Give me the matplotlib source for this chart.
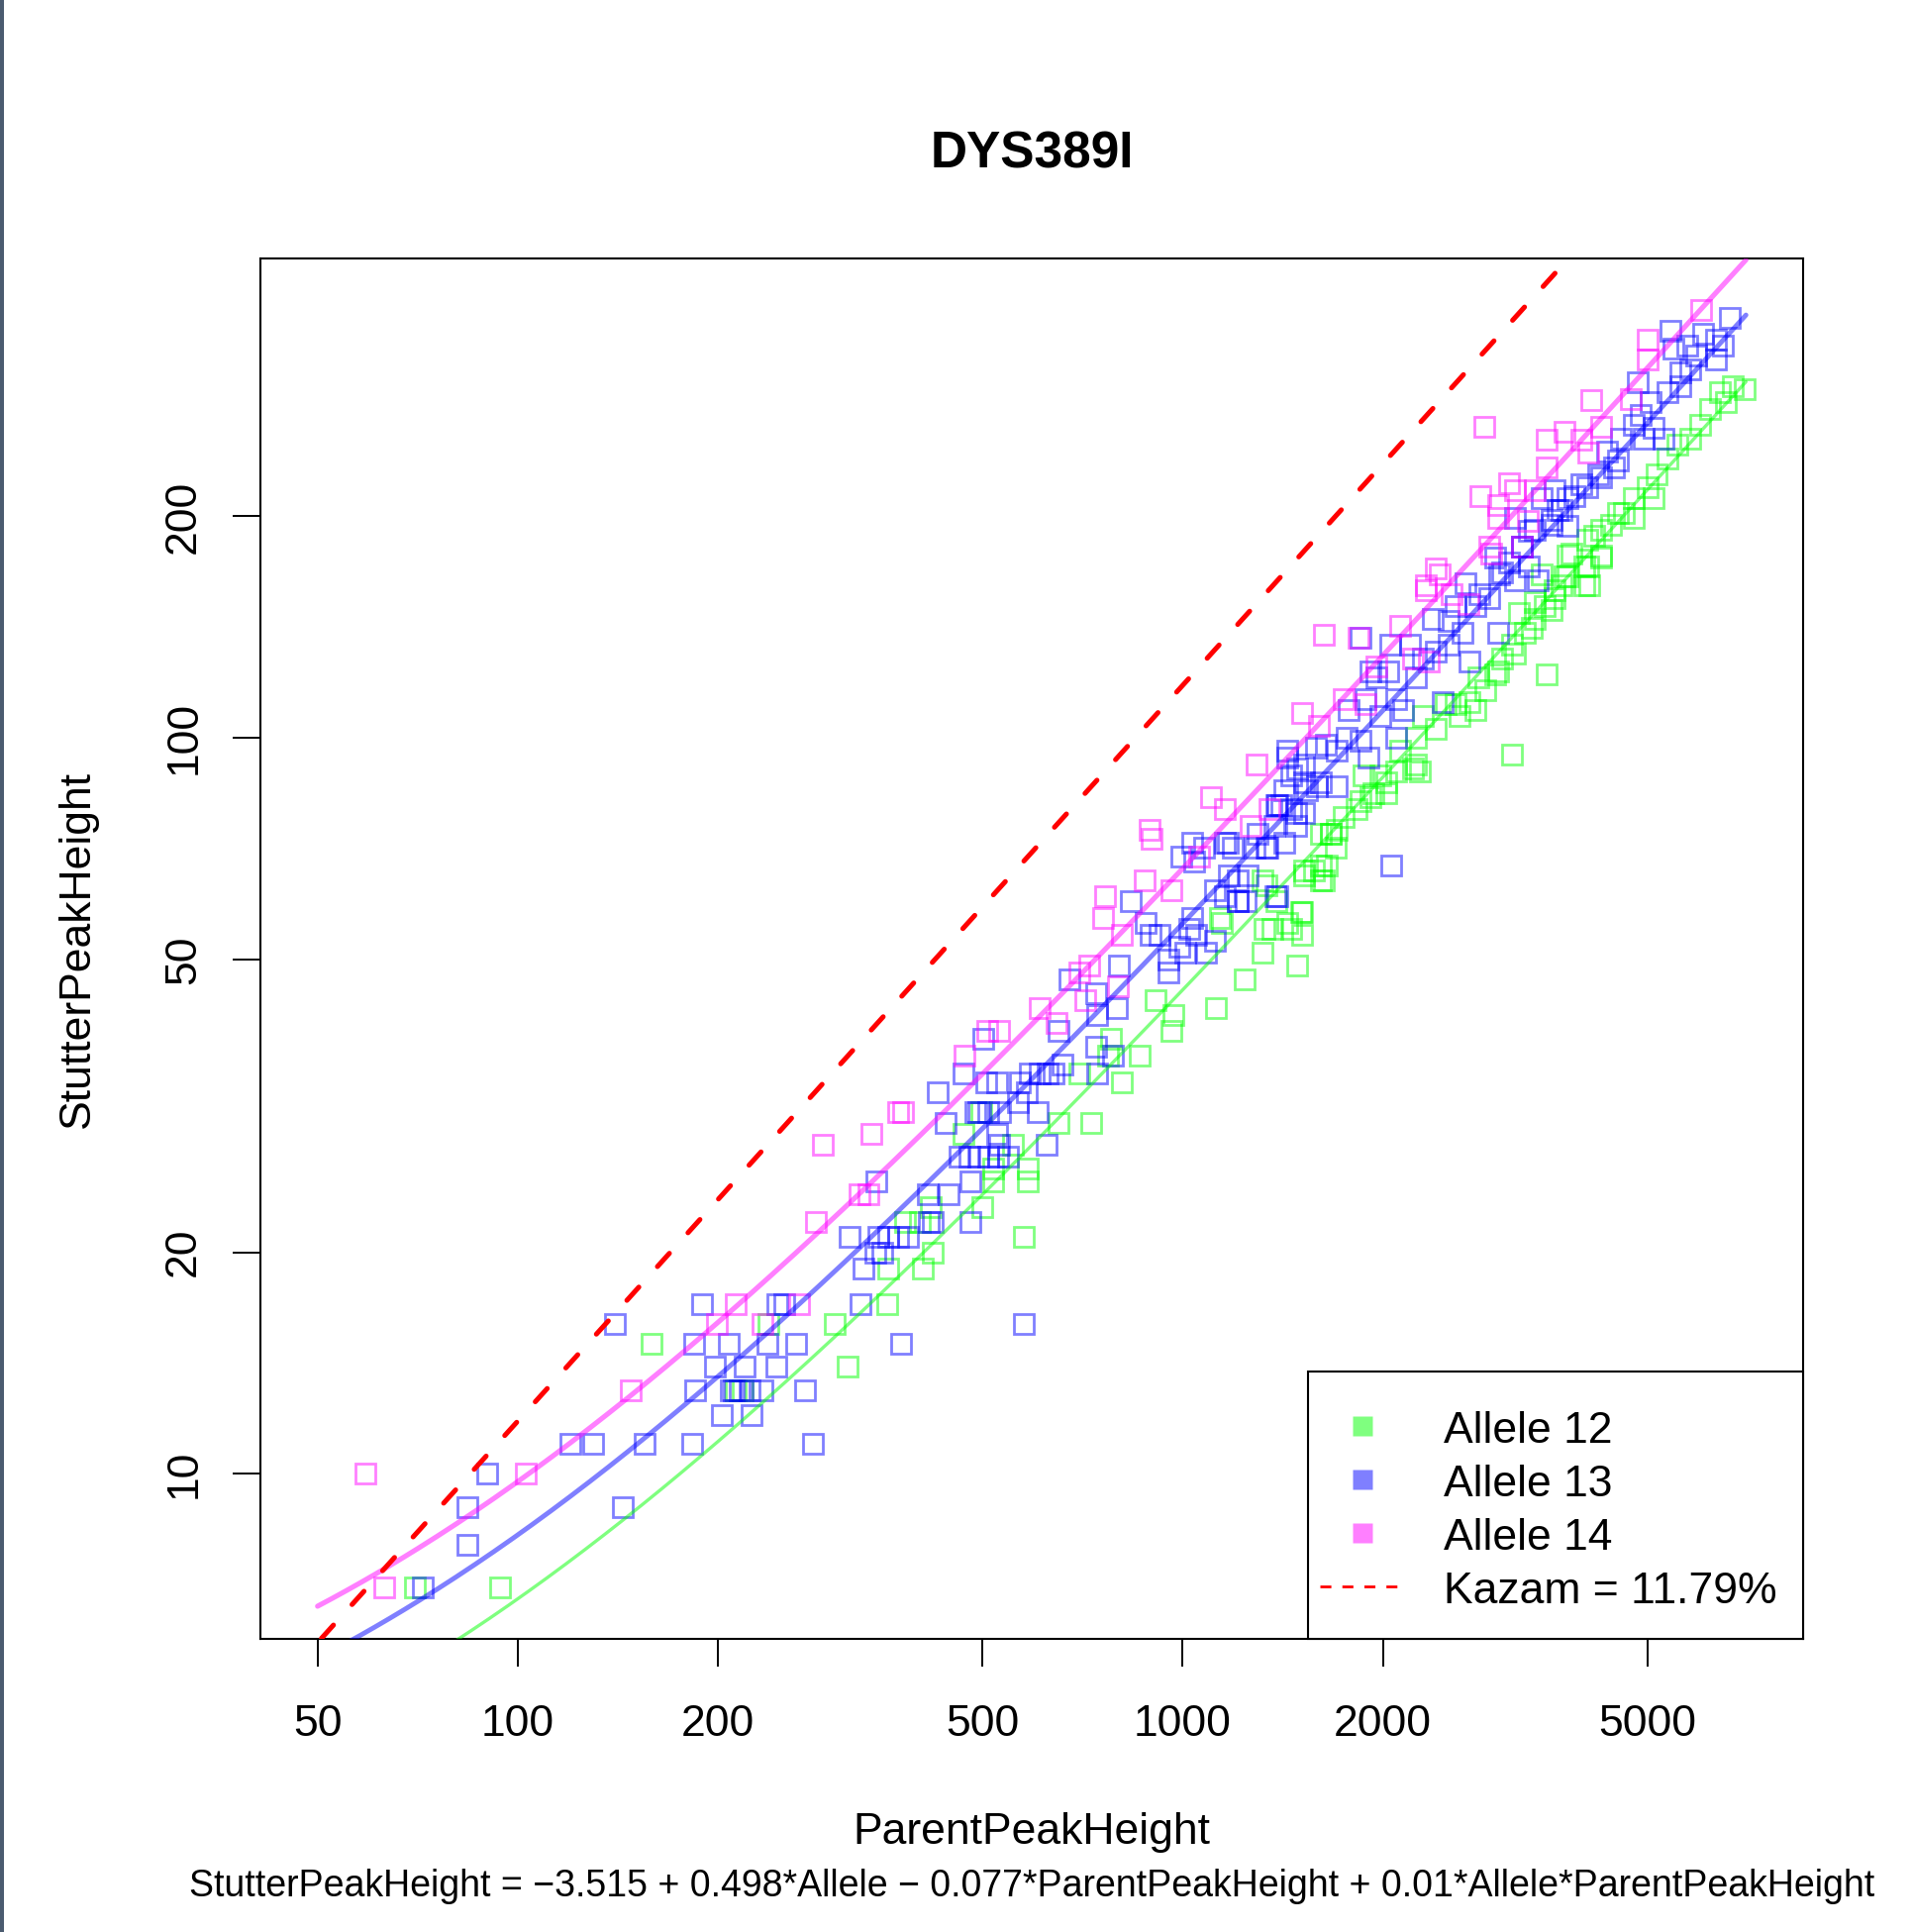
import numpy as np
import matplotlib.pyplot as plt
from matplotlib.patches import Rectangle
from matplotlib.ticker import NullLocator

plt.rcParams['font.family'] = ['Liberation Sans', 'DejaVu Sans']

# points: (ParentPeakHeight, StutterPeakHeight)
allele12_points = [
    (70, 7), (94, 7), (159, 15), (213, 13), (218, 13), (238, 16), (300, 16), (313, 14),
    (359, 17), (361, 19), (382, 22), (402, 22), (407, 19), (418, 23), (421, 20), (468, 29),
    (499, 23), (518, 26), (518, 25), (555, 28), (576, 21), (585, 26), (585, 25),
    (497, 31), (650, 30), (729, 30), (699, 35), (809, 34), (771, 37), (780, 39), (861, 37),
    (962, 40), (967, 42), (910, 44), (1122, 43), (1137, 57), (1238, 47), (1320, 51), (1486, 49),
    (1365, 55), (1455, 55), (1512, 54), (1512, 58), (1385, 60), (1336, 63), (1320, 64),
    (1611, 64), (1521, 66), (1645, 67), (1573, 66), (1670, 74), (1700, 71),
    (1144, 56), (1327, 55), (1437, 56), (1504, 58), (1522, 65), (1611, 67), (1629, 64),
    (1667, 74), (1745, 78), (1848, 82), (1934, 84), (2025, 87), (2218, 91), (2270, 90),
    (3124, 95), (3524, 122), (2487, 111), (2603, 107), (2755, 109), (2852, 116), (2985, 123),
    (3160, 130), (3346, 141), (3502, 151), (3709, 161), (4017, 171), (4253, 177),
    (1612, 74), (1706, 75), (1827, 80), (1912, 83), (2025, 84), (1869, 89), (1980, 89),
    (2096, 90), (2244, 92), (2120, 96), (2244, 100), (2404, 103), (2296, 107), (2574, 111),
    (2694, 112), (2787, 121), (2952, 122), (3020, 128), (3125, 134), (3271, 139), (3385, 145),
    (3626, 155), (3752, 166), (4018, 161), (3794, 177), (4064, 186), (4254, 192), (4505, 202),
    (3198, 148), (3386, 153), (3584, 149), (3464, 167), (3626, 159), (4089, 161), (3795, 166),
    (3839, 178), (4065, 171), (4255, 176), (4159, 188), (4403, 195), (4609, 202), (4770, 199),
    (4770, 212), (5108, 212), (4993, 219), (5167, 228), (5348, 240), (5534, 250), (5791, 255),
    (5995, 266), (6203, 280), (6568, 286), (6420, 295), (6720, 301), (6994, 298),
]

allele13_points = [
    (72, 7), (84, 8), (84, 9), (90, 10), (144, 9), (120, 11), (130, 11), (155, 11), (183, 11),
    (278, 11), (203, 12), (225, 12), (185, 13), (211, 13), (209, 13), (216, 13), (223, 13),
    (233, 13), (270, 13), (198, 14), (219, 14), (245, 14), (184, 15), (208, 15), (237, 15),
    (262, 15), (377, 15), (140, 16), (577, 16), (189, 17), (246, 17), (252, 17), (328, 17),
    (331, 19), (345, 20), (353, 20), (316, 21), (349, 21), (361, 21), (373, 21), (386, 21),
    (415, 22), (421, 22), (480, 22), (413, 24), (445, 24), (346, 25), (480, 25), (461, 27),
    (477, 27), (493, 27), (510, 27), (527, 27), (546, 27), (526, 29), (530, 28), (624, 28),
    (440, 30), (493, 31), (510, 31), (488, 31), (532, 31), (606, 31), (566, 32), (428, 33),
    (583, 33), (506, 34), (526, 34), (569, 34), (468, 35), (588, 35), (609, 35), (626, 35),
    (639, 35), (743, 35), (660, 36), (786, 37), (741, 38), (501, 39), (650, 40), (743, 42),
    (795, 43), (741, 45), (676, 47), (801, 49), (953, 48), (953, 50), (1010, 51), (1083, 51),
    (987, 52), (1117, 53), (895, 54), (922, 54), (1046, 54), (1021, 55), (880, 56), (1034, 57),
    (836, 60), (1210, 60), (1245, 60), (1211, 60), (1156, 61), (1377, 61), (1389, 61),
    (1117, 62), (1210, 64), (1171, 65), (1254, 65), (2059, 67), (1040, 68), (995, 69),
    (1078, 71), (1190, 71), (1336, 71), (1282, 71), (1342, 71), (1034, 72), (1156, 72),
    (1170, 72), (1419, 72), (1297, 74), (1373, 76), (1481, 76), (1405, 81), (1389, 81),
    (1385, 81), (1479, 79), (1455, 80), (1521, 79), (1419, 85), (1539, 85), (1612, 87),
    (1706, 86), (1594, 86), (1521, 87), (1454, 89), (1487, 91), (1522, 92), (1437, 96),
    (1584, 97), (1639, 98), (1706, 96), (1766, 100), (1848, 99), (1902, 94), (1437, 94),
    (2096, 100), (1980, 107), (1776, 109), (2144, 109), (1880, 113), (2096, 113), (2459, 112),
    (1957, 121), (1912, 123), (2037, 123), (2244, 121), (2694, 127), (2296, 128), (2404, 131),
    (2193, 134), (2048, 134), (2515, 134), (1848, 137), (2985, 139), (2633, 139), (2515, 144),
    (2376, 145), (2756, 151), (2575, 151), (2885, 155), (2788, 157), (2664, 162), (3161, 164),
    (3424, 164), (2987, 167), (3020, 168), (3309, 171), (3090, 173), (2953, 176), (3234, 182),
    (3235, 182), (3311, 191), (3385, 192), (3794, 194), (3584, 195), (3586, 198), (3163, 199),
    (3667, 204), (3709, 204), (3795, 212), (3882, 213), (3464, 212), (3626, 217), (4064, 219),
    (3973, 221), (4254, 226), (4207, 228), (4453, 233), (4505, 238), (4353, 245), (4557, 255),
    (4937, 255), (5287, 255), (5108, 264), (4770, 266), (4881, 275), (5050, 286), (5348, 295),
    (5598, 301), (4826, 304), (5598, 314), (5791, 317), (6346, 327), (5925, 331), (5470, 338),
    (5727, 341), (6493, 341), (6346, 348), (6063, 354), (5409, 357), (6643, 372),
]

allele14_points = [
    (59, 10), (63, 7), (103, 10), (148, 13), (199, 16), (213, 17), (233, 16), (265, 17),
    (281, 22), (288, 28), (327, 24), (337, 24), (340, 29), (373, 31), (380, 31), (470, 37),
    (508, 40), (530, 40), (610, 43), (645, 41), (699, 48), (714, 44), (723, 49), (758, 57),
    (764, 61), (798, 46), (811, 54), (877, 64), (891, 75), (899, 73), (962, 62), (1057, 69),
    (1104, 83), (1156, 80), (1265, 76), (1289, 92), (1350, 80), (1513, 108), (1605, 104),
    (1629, 138), (1747, 113), (1841, 137), (1880, 111), (1953, 125), (2119, 142), (2220, 128),
    (2320, 159), (2322, 161), (2345, 127), (2403, 170), (2432, 167), (2535, 157), (2685, 152),
    (2805, 213), (2836, 265), (2886, 182), (2910, 178), (2980, 207), (2985, 199), (3100, 222),
    (3163, 217), (3240, 182), (3300, 197), (3386, 217), (3524, 254), (3530, 233), (3752, 261),
    (3973, 254), (4070, 244), (4112, 288), (4255, 265), (4716, 289), (4993, 327), (4993, 348),
    (6029, 382),
]

# linear model printed under the plot, and the Kazam stutter ratio
coef_intercept = -3.515
coef_allele = 0.498
coef_parent = -0.077
coef_interaction = 0.01
kazam_ratio = 0.1179

alleles = [12, 13, 14]
allele_points = [allele12_points, allele13_points, allele14_points]
allele_colors = [(0, 1, 0, 0.5), (0, 0, 1, 0.5), (1, 0, 1, 0.5)]
fit_lw = [2.4, 3.5, 3.7]

parent_range = (50, 7030)
stutter_range = (7, 382)
x_ticks = [50, 100, 200, 500, 1000, 2000, 5000]
y_ticks = [10, 20, 50, 100, 200]

W, H = 1933, 1951
L, R, T, B = 263, 1821, 261, 1655
fig = plt.figure(figsize=(W / 100, H / 100), dpi=100)
ax = fig.add_axes([L / W, 1 - B / H, (R - L) / W, (B - T) / H])
ax.set_xscale('log')
ax.set_yscale('log')


def r_limits(lo, hi, f=0.04):
    # R style 4% padding, in log space
    a, b = np.log10(lo), np.log10(hi)
    d = (b - a) * f
    return 10 ** (a - d), 10 ** (b + d)


ax.set_xlim(r_limits(*parent_range))
ax.set_ylim(r_limits(*stutter_range))

for pts, col in zip(allele_points, allele_colors):
    p = np.array(pts, dtype=float)
    ax.plot(p[:, 0], p[:, 1], ls='none', marker='s', ms=14.5, mfc='none',
            mec=col, mew=2.0, zorder=2)

xs = np.logspace(np.log10(parent_range[0]), np.log10(parent_range[1]), 300)
for allele, col, lw in zip(alleles, allele_colors, fit_lw):
    ys = coef_intercept + coef_allele * allele + (coef_parent + coef_interaction * allele) * xs
    ax.plot(xs, ys, color=col, lw=lw, solid_capstyle='round', zorder=3)

xk = np.logspace(*np.log10(ax.get_xlim()), 300)
ax.plot(xk, kazam_ratio * xk, color='red', lw=3.6, ls=(0, (3.6, 5.6)),
        dash_capstyle='round', zorder=4)

ax.set_xticks(x_ticks)
ax.set_xticklabels([str(t) for t in x_ticks])
ax.set_yticks(y_ticks)
ax.set_yticklabels([str(t) for t in y_ticks])
ax.xaxis.set_minor_locator(NullLocator())
ax.yaxis.set_minor_locator(NullLocator())
ax.tick_params(direction='out', length=20, width=1.4, labelsize=32)
ax.tick_params(axis='x', pad=50.4)
ax.tick_params(axis='y', pad=27.4)
for t in ax.get_xticklabels():
    t.set_va('baseline')
for t in ax.get_yticklabels():
    t.set_rotation(90)
    t.set_rotation_mode('anchor')
    t.set_ha('center')
    t.set_va('baseline')
for s in ax.spines.values():
    s.set_linewidth(1.5)


def axx(px):
    return (px - L) / (R - L)


def axy(py):
    return (B - py) / (B - T)


# legend box in the lower right corner
ax.add_patch(Rectangle((axx(1321), 0), 1 - axx(1321), axy(1385), transform=ax.transAxes,
                       fc='white', ec='black', lw=1.5, zorder=5, clip_on=False))
leg_labels = ['Allele 12', 'Allele 13', 'Allele 14']
leg_marker_y = [1440, 1494, 1548]
leg_text_y = [1457, 1511, 1565]
for lab, col, my, ty in zip(leg_labels, allele_colors, leg_marker_y, leg_text_y):
    ax.plot([axx(1376)], [axy(my)], marker='s', ms=14.9, mfc=col, mec='none',
            transform=ax.transAxes, clip_on=False, zorder=6)
    ax.text(axx(1458), axy(ty), lab, transform=ax.transAxes, fontsize=32,
            va='baseline', zorder=6)
ax.plot([axx(1333), axx(1412)], [axy(1602), axy(1602)], color='red', lw=2, ls=(0, (4, 4)),
        dash_capstyle='butt', transform=ax.transAxes, clip_on=False, zorder=6)
ax.text(axx(1458), axy(1619), 'Kazam = 11.79%', transform=ax.transAxes, fontsize=32,
        va='baseline', zorder=6)

cx = (L + R) / 2 / W
fig.text(cx, 1 - 170 / H, 'DYS389I', ha='center', va='baseline', fontsize=37, weight='bold')
fig.text(cx, 1 - 1862 / H, 'ParentPeakHeight', ha='center', va='baseline', fontsize=32)
fig.text(90 / W, 1 - (T + B) / 2 / H, 'StutterPeakHeight', ha='center', va='baseline',
         rotation=90, rotation_mode='anchor', fontsize=32)
fig.text(cx, 1 - 1915 / H,
         'StutterPeakHeight = \u22123.515 + 0.498*Allele \u2212 0.077*ParentPeakHeight'
         ' + 0.01*Allele*ParentPeakHeight',
         ha='center', va='baseline', fontsize=27)

# dark strip along the left edge of the screenshot
fig.add_artist(Rectangle((0, 0), 4.5 / W, 1, transform=fig.transFigure,
                         color='#4b5b70', lw=0))

fig.savefig('out.png', dpi=100)
